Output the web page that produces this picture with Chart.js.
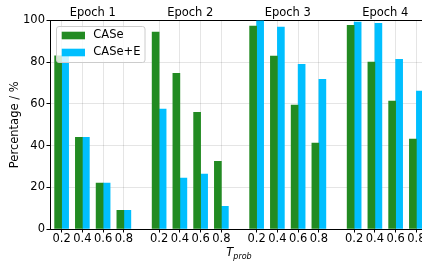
<!DOCTYPE html>
<html>
<head>
<meta charset="utf-8">
<script src="https://cdn.jsdelivr.net/npm/chart.js@4.4.1/dist/chart.umd.min.js"></script>
<style>
  html, body { margin: 0; padding: 0; background: #fff; overflow: hidden; width: 422px; height: 262px; }
  #wrap { width: 440px; height: 262px; }
</style>
</head>
<body>
<div id="wrap"><canvas id="c" width="440" height="262"></canvas></div>
<script>
// ---- data ----
const epochs = ['Epoch 1', 'Epoch 2', 'Epoch 3', 'Epoch 4'];
const tProb = ['0.2', '0.4', '0.6', '0.8'];
const seriesNames = ['CASe', 'CASe+E'];
const caseValues  = [83, 44, 22, 9,   94.4, 74.7, 56.0, 32.5,   97.3, 82.9, 59.4, 41.2,   97.7, 80.0, 61.3, 43.1];
const caseEValues = [83, 44, 22, 9,   57.5, 24.4, 26.4, 10.9,   100, 96.8, 79.0, 71.8,    99.2, 98.7, 81.4, 66.1];
const yTicks = [0, 20, 40, 60, 80, 100];

// ---- layout constants ----
const GROUP_STEP = 4.7;
const X_MIN = -0.56;
const X_MAX = (epochs.length - 1) * GROUP_STEP + (tProb.length - 1) + 0.56;

const xPos = [];
epochs.forEach((e, g) => tProb.forEach((t, i) => xPos.push(g * GROUP_STEP + i)));
const groupCenters = epochs.map((e, g) => g * GROUP_STEP + (tProb.length - 1) / 2);

const FONT = 'DejaVu Sans';
const FS = 11.5;
const colors = ['#228B22', '#00BFFF'];

const legendPlugin = {
  id: 'insideLegend',
  afterDatasetsDraw(chart) {
    const ctx = chart.ctx;
    const x0 = 56.5, y0 = 26.5, w = 88.5, h = 36;
    ctx.save();
    ctx.beginPath();
    ctx.roundRect(x0, y0, w, h, 2.5);
    ctx.fillStyle = 'rgba(255,255,255,0.8)';
    ctx.fill();
    ctx.strokeStyle = '#cccccc';
    ctx.lineWidth = 1;
    ctx.stroke();
    chart.data.datasets.forEach((ds, k) => {
      const cy = 35.5 + k * 17;
      ctx.fillStyle = ds.backgroundColor;
      ctx.fillRect(61.7, cy - 3.8, 23.3, 7.6);
      ctx.fillStyle = '#000';
      ctx.font = FS + 'px "' + FONT + '"';
      ctx.textBaseline = 'middle';
      ctx.textAlign = 'left';
      ctx.fillText(ds.label, 93.3, cy);
    });
    ctx.restore();
  }
};

const xTitlePlugin = {
  id: 'xTitle',
  afterDraw(chart) {
    const ctx = chart.ctx;
    const a = chart.chartArea;
    ctx.save();
    ctx.fillStyle = '#000';
    ctx.textBaseline = 'alphabetic';
    ctx.textAlign = 'left';
    ctx.font = 'italic ' + FS + 'px "' + FONT + '"';
    const tw = ctx.measureText('T').width;
    ctx.font = 'italic 8px "' + FONT + '"';
    const sw = ctx.measureText('prob').width;
    const cx = (a.left + a.right) / 2;
    const x = cx - (tw + sw) / 2;
    ctx.font = 'italic ' + FS + 'px "' + FONT + '"';
    ctx.fillText('T', x, 256);
    ctx.font = 'italic 8px "' + FONT + '"';
    ctx.fillText('prob', x + tw, 258.5);
    ctx.restore();
  }
};

const noPad = s => { s.paddingLeft = 0; s.paddingRight = 0; s.paddingTop = 0; s.paddingBottom = 0; };

new Chart(document.getElementById('c'), {
  type: 'bar',
  data: {
    datasets: [
      { label: seriesNames[0], data: caseValues.map((v, k) => ({ x: xPos[k], y: v })), backgroundColor: colors[0], borderWidth: 0, barThickness: 7, xAxisID: 'x', yAxisID: 'y' },
      { label: seriesNames[1], data: caseEValues.map((v, k) => ({ x: xPos[k], y: v })), backgroundColor: colors[1], borderWidth: 0, barThickness: 7, xAxisID: 'x', yAxisID: 'y' }
    ]
  },
  options: {
    responsive: false,
    devicePixelRatio: 1,
    animation: false,
    layout: { padding: { left: 0, right: 12, top: 0, bottom: 0 } },
    plugins: { legend: { display: false }, tooltip: { enabled: false } },
    scales: {
      x: {
        type: 'linear',
        position: 'bottom',
        offset: false,
        min: X_MIN, max: X_MAX,
        afterBuildTicks: s => { s.ticks = xPos.map(v => ({ value: v })); },
        afterFit: s => { s.height = 33; noPad(s); },
        ticks: {
          autoSkip: false, maxRotation: 0, minRotation: 0, padding: 0,
          color: '#000', font: { family: FONT, size: FS },
          callback: (v, i) => tProb[i % tProb.length]
        },
        grid: { color: 'rgba(0,0,0,0.1)', tickColor: '#000', tickLength: 3.5, offset: false },
        border: { display: true, color: '#000', width: 1 }
      },
      xTop: {
        type: 'linear',
        position: 'top',
        offset: false,
        min: X_MIN, max: X_MAX,
        afterBuildTicks: s => { s.ticks = groupCenters.map(v => ({ value: v })); },
        afterFit: s => { s.height = 20.5; noPad(s); },
        ticks: {
          autoSkip: false, maxRotation: 0, minRotation: 0, padding: 0.5,
          color: '#000', font: { family: FONT, size: FS },
          callback: (v, i) => epochs[i]
        },
        grid: { display: false, drawTicks: false, drawOnChartArea: false, offset: false },
        border: { display: true, color: '#000', width: 1 }
      },
      y: {
        type: 'linear',
        position: 'left',
        min: 0, max: 100,
        afterBuildTicks: s => { s.ticks = yTicks.map(v => ({ value: v })); },
        afterFit: s => { s.width = 50; noPad(s); },
        ticks: { padding: 1.5, color: '#000', font: { family: FONT, size: FS } },
        grid: { color: 'rgba(0,0,0,0.1)', tickColor: '#000', tickLength: 3.5 },
        border: { display: true, color: '#000', width: 1 },
        title: { display: true, text: 'Percentage / %', color: '#000', font: { family: FONT, size: FS }, padding: { top: 8.1, bottom: 0 } }
      }
    }
  },
  plugins: [legendPlugin, xTitlePlugin]
});
</script>
</body>
</html>
